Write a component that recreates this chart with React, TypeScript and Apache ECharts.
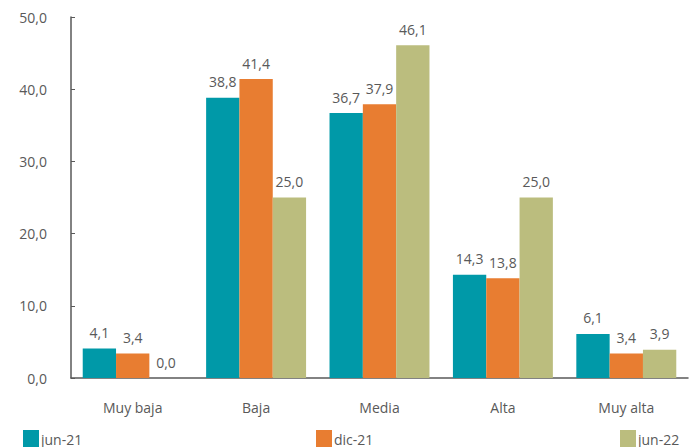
import React, { useEffect, useRef } from "react";
import * as echarts from "echarts";

const categories = ["Muy baja", "Baja", "Media", "Alta", "Muy alta"];
const seriesNames = ["jun-21", "dic-21", "jun-22"];
const jun21 = [4.1, 38.8, 36.7, 14.3, 6.1];
const dic21 = [3.4, 41.4, 37.9, 13.8, 3.4];
const jun22 = [0.0, 25.0, 46.1, 25.0, 3.9];
const colors = ["#0099A8", "#E87D31", "#BBBD7E"];

const fmt = (v: number) => v.toFixed(1).replace(".", ",");
const FONT = "'Open Sans', sans-serif";
const TXT = "#595959";

export default function App() {
  const ref = useRef<HTMLDivElement>(null);
  useEffect(() => {
    const chart = echarts.init(ref.current!, undefined, { renderer: "svg" });
    const data = [jun21, dic21, jun22];
    const legendLefts = [18, 311, 615];
    chart.setOption({
      animation: false,
      textStyle: { fontFamily: FONT },
      grid: { left: 71, right: 11, top: 17, bottom: 69 },
      legend: seriesNames.map((n, i) => ({
        data: [n],
        left: legendLefts[i],
        top: 425,
        itemWidth: 16,
        itemHeight: 18,
        itemGap: 2,
        icon: "rect",
        textStyle: { color: TXT, fontSize: 14, fontFamily: FONT, padding: [0, 0, 0, -3] },
      })),
      xAxis: {
        type: "category",
        data: categories,
        axisLine: { lineStyle: { color: "#595959", width: 1.5 } },
        axisTick: { inside: true, length: 6, lineStyle: { color: "#595959" } },
        axisLabel: { color: TXT, fontSize: 14, margin: 22, fontFamily: FONT },
      },
      yAxis: {
        type: "value",
        min: 0,
        max: 50,
        interval: 10,
        splitLine: { show: false },
        axisLine: { show: true, lineStyle: { color: "#595959", width: 1.5 } },
        axisTick: { show: true, inside: true, length: 4, lineStyle: { color: "#595959" } },
        axisLabel: { color: TXT, fontSize: 14, margin: 24, formatter: (v: number) => fmt(v), fontFamily: FONT },
      },
      series: seriesNames.map((n, i) => ({
        name: n,
        type: "bar",
        data: data[i],
        barGap: "0%",
        barCategoryGap: "19%",
        itemStyle: { color: colors[i] },
        label: {
          show: true,
          position: "top",
          distance: 9,
          color: TXT,
          fontSize: 14,
          fontFamily: FONT,
          formatter: (p: any) => fmt(p.value),
        },
      })),
    });
    return () => chart.dispose();
  }, []);
  return <div ref={ref} style={{ width: 699, height: 447, position: "absolute", left: 0, top: 0 }} />;
}
